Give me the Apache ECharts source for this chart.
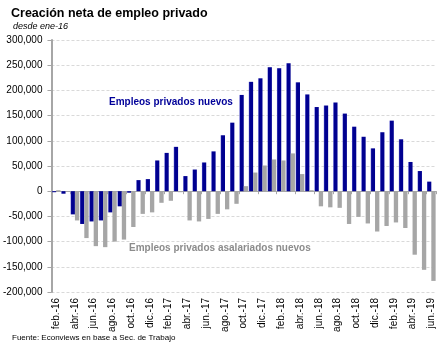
<!DOCTYPE html>
<html><head><meta charset="utf-8">
<script src="https://cdn.jsdelivr.net/npm/echarts@6/dist/echarts.min.js"></script>
<style>html,body{margin:0;padding:0;background:#fff}#c{width:444px;height:346px}</style>
</head><body><div id="c"></div>
<script>
const months = ['ene.','feb.','mar.','abr.','may.','jun.','jul.','ago.','sep.','oct.','nov.','dic.'];
const categories = [];
for (let y = 16; y <= 19; y++) for (let m = 0; m < 12; m++) {
  if ((y === 16 && m < 1) || (y === 19 && m > 5)) continue;
  categories.push(months[m] + '-' + y);
}
const privadosNuevos = [-2000,-5000,-46000,-65000,-60000,-58000,-42000,-30000,-3000,22000,
  24000,61000,76000,88000,30000,43000,57000,79000,111000,136000,
  191000,217000,224000,246000,244000,254000,216000,192000,167000,170000,
  176000,154000,128000,108000,85000,117000,140000,103000,58000,40000,19000];
const asalariadosNuevos = [2000,-1000,-58000,-93000,-109000,-111000,-100000,-96000,-71000,-45000,
  -42000,-23000,-19000,-2000,-58000,-60000,-55000,-45000,-36000,-25000,
  10000,37000,51000,63000,61000,75000,34000,2000,-30000,-32000,
  -33000,-65000,-51000,-64000,-80000,-69000,-62000,-73000,-126000,-156000,-178000];
const yTicks = [-200000,-150000,-100000,-50000,0,50000,100000,150000,200000,250000,300000];

const FONT = '"Liberation Sans", Arial, sans-serif';
const chart = echarts.init(document.getElementById('c'), null, {renderer:'canvas'});
chart.setOption({
  animation: false,
  backgroundColor: '#fff',
  grid: {left: 51, right: 8, top: 40, bottom: 54, containLabel: false},
  xAxis: [{
    type: 'category', data: categories, position: 'bottom',
    axisLine: {show: false, onZero: false},
    axisTick: {show: false},
    axisLabel: {interval: 1, rotate: 90, margin: 6, fontFamily: FONT, fontSize: 10, color: '#000'},
    splitLine: {show: false}
  }, {
    type: 'category', data: categories, position: 'top',
    axisLine: {show: true, onZero: true, lineStyle: {color: '#a6a6a6', width: 1}},
    axisTick: {show: true, inside: true, interval: 1, length: 3, lineStyle: {color: '#a6a6a6'}},
    axisLabel: {show: false}
  }],
  yAxis: {
    type: 'value', min: yTicks[0], max: yTicks[yTicks.length-1], interval: 50000,
    axisLine: {show: true, lineStyle: {color: '#a6a6a6', width: 2}},
    axisTick: {show: true, length: 4, lineStyle: {color: '#a6a6a6'}},
    axisLabel: {margin: 9, fontFamily: FONT, fontSize: 10, color: '#000',
      formatter: v => v.toLocaleString('en-US')},
    splitLine: {show: true, lineStyle: {color: '#d9d9d9', type: [3,2], width: 1}}
  },
  series: [{
    name: 'Empleos privados nuevos', type: 'bar', data: privadosNuevos,
    barGap: '0%', barCategoryGap: '8%',
    itemStyle: {color: {type:'linear', x:0, y:0, x2:1, y2:0, colorStops:[
      {offset:0, color:'#6060d0'},{offset:0.22, color:'#000090'},{offset:1, color:'#000090'}]}}
  }, {
    name: 'Empleos privados asalariados nuevos', type: 'bar', data: asalariadosNuevos,
    barGap: '0%', barCategoryGap: '8%',
    itemStyle: {color: '#a6a6a6'}
  }],
  graphic: [
    {type:'text', left: 11, top: 7, style:{text:'Creación neta de empleo privado', fontFamily: FONT, fontSize: 12.5, fontWeight:'bold', fill:'#000'}},
    {type:'text', left: 13, top: 22, style:{text:'desde ene-16', fontFamily: FONT, fontSize: 9, fontStyle:'italic', fill:'#000'}},
    {type:'text', left: 109, top: 97, style:{text:'Empleos privados nuevos', fontFamily: FONT, fontSize: 10, fontWeight:'bold', fill:'#000099'}},
    {type:'text', left: 129, top: 243, style:{text:'Empleos privados asalariados nuevos', fontFamily: FONT, fontSize: 10, fontWeight:'bold', fill:'#8c8c8c'}},
    {type:'text', left: 12, top: 334, style:{text:'Fuente: Econviews en base a Sec. de Trabajo', fontFamily: FONT, fontSize: 8, fill:'#000'}}
  ]
});
</script></body></html>
